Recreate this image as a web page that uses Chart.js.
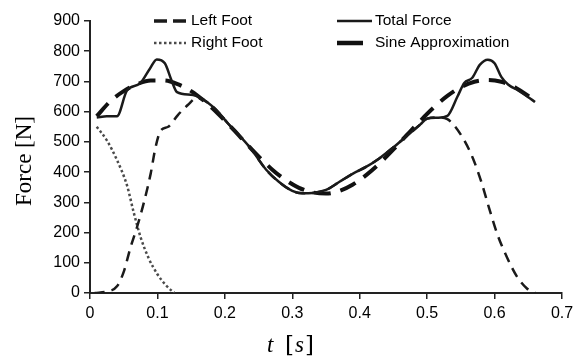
<!DOCTYPE html>
<html>
<head>
<meta charset="utf-8">
<script src="https://cdn.jsdelivr.net/npm/chart.js@4.4.1/dist/chart.umd.min.js"></script>
<style>
  html, body { margin: 0; padding: 0; background: #fff; }
  #wrap { width: 580px; height: 358px; position: relative; }
</style>
</head>
<body>
<div id="wrap"><canvas id="myChart"></canvas></div>
<script>
// values (t in s, force in N)
const leftT = [0.007, 0.025, 0.04, 0.05, 0.06, 0.07, 0.08, 0.09, 0.097, 0.105, 0.116, 0.13, 0.145, 0.158,
  0.183, 0.205, 0.237, 0.262, 0.28, 0.3, 0.315, 0.33, 0.35, 0.37, 0.39, 0.41, 0.43, 0.45, 0.47, 0.49, 0.5, 0.515, 0.53,
  0.54, 0.555, 0.568, 0.58, 0.592, 0.604, 0.618, 0.633, 0.648, 0.66];
const leftF = [0, 5, 22, 70, 150, 220, 300, 395, 480, 538, 550, 588, 622, 645,
  615, 560, 482, 406, 368, 338, 330, 331, 341, 368, 395, 418, 447, 482, 520, 558, 577, 581, 575,
  555, 505, 445, 370, 280, 195, 120, 55, 15, 0];

const rightT = [0.01, 0.025, 0.04, 0.055, 0.065, 0.075, 0.087, 0.1, 0.113, 0.125];
const rightF = [550, 505, 440, 355, 265, 185, 115, 62, 25, 0];

const totalT = [0.01, 0.025, 0.04, 0.055, 0.074, 0.089, 0.099, 0.111, 0.121, 0.129, 0.153, 0.183, 0.205, 0.237, 0.262,
  0.28, 0.3, 0.315, 0.33, 0.35, 0.37, 0.39, 0.41, 0.43, 0.45, 0.47, 0.49, 0.5, 0.515, 0.53, 0.545, 0.555, 0.567,
  0.578, 0.59, 0.6, 0.61, 0.62, 0.635, 0.65, 0.66];
const totalF = [581, 585, 585, 671, 693, 743, 773, 760, 703, 665, 655, 615, 560, 482, 406,
  368, 338, 330, 331, 341, 368, 395, 418, 447, 482, 520, 558, 577, 580, 586, 650, 695, 712,
  755, 772, 760, 715, 690, 670, 648, 632];

const sineT = [0.01, 0.03, 0.05, 0.07, 0.09, 0.11, 0.13, 0.15, 0.17, 0.19, 0.21, 0.23, 0.25, 0.27, 0.29, 0.31, 0.33,
  0.35, 0.37, 0.39, 0.41, 0.43, 0.45, 0.47, 0.49, 0.51, 0.53, 0.55, 0.57, 0.59, 0.61, 0.63, 0.65, 0.66];
const sineF = [585, 634, 668, 691, 703, 703, 691, 668, 634, 593, 547, 499, 452, 409, 374, 348, 333,
  329, 338, 359, 391, 430, 475, 523, 570, 614, 652, 681, 699, 705, 699, 681, 652, 635];

const xTicks = [0, 0.1, 0.2, 0.3, 0.4, 0.5, 0.6, 0.7];
const yTicks = [0, 100, 200, 300, 400, 500, 600, 700, 800, 900];

const toPoints = (ts, fs) => ts.map((t, i) => ({ x: t, y: fs[i] }));

const legendPlugin = {
    id: 'twoColLegend',
    afterDraw(chart) {
        const c = chart.ctx;
        const items = [
            { ds: 0, x: 154, y: 21 },
            { ds: 1, x: 154, y: 43 },
            { ds: 2, x: 337, y: 21 },
            { ds: 3, x: 337, y: 43 }
        ];
        const lens = [32, 32, 35, 26];
        c.save();
        items.forEach((it, i) => {
            const ds = chart.data.datasets[it.ds];
            c.beginPath();
            c.strokeStyle = ds.borderColor;
            c.lineWidth = ds.legendWidth;
            c.setLineDash(ds.legendDash);
            c.moveTo(it.x, it.y);
            c.lineTo(it.x + lens[i], it.y);
            c.stroke();
            c.setLineDash([]);
            c.fillStyle = '#000';
            c.font = '15.5px "Liberation Sans", Arial, sans-serif';
            c.textBaseline = 'middle';
            c.textAlign = 'left';
            c.fillText(ds.label, it.x + (i < 2 ? 37 : 38), it.y);
        });

        // axis titles
        c.fillStyle = '#000';
        c.textBaseline = 'middle';
        c.save();
        c.translate(25, 161);
        c.rotate(-Math.PI / 2);
        c.textAlign = 'center';
        c.font = '23px "Liberation Serif", "Times New Roman", serif';
        c.fillText('Force [N]', 0, 0);
        c.restore();

        c.textAlign = 'left';
        c.font = 'italic 23px "Liberation Serif", "Times New Roman", serif';
        c.fillText('t', 267, 346);
        c.font = '23px "DejaVu Serif", "Liberation Serif", serif';
        c.fillText('[', 285, 346);
        c.font = 'italic 23px "Liberation Serif", "Times New Roman", serif';
        c.fillText('s', 295, 346);
        c.font = '23px "DejaVu Serif", "Liberation Serif", serif';
        c.fillText(']', 305, 346);
        c.restore();
    }
};

document.addEventListener('DOMContentLoaded', () => {
    const ctx = document.getElementById('myChart').getContext('2d');

    const myChart = new Chart(ctx, {
        type: 'line',
        data: {
            datasets: [
                {
                    label: 'Left Foot',
                    data: toPoints(leftT, leftF),
                    borderColor: '#1a1a1a',
                    borderWidth: 2.5,
                    borderDash: [10, 7],
                    legendWidth: 3.5,
                    legendDash: [13, 6]
                },
                {
                    label: 'Right Foot',
                    data: toPoints(rightT, rightF),
                    borderColor: '#4a4a4a',
                    borderWidth: 2.5,
                    borderDash: [2.5, 2.5],
                    legendWidth: 2.5,
                    legendDash: [2.5, 2.5]
                },
                {
                    label: 'Total Force',
                    data: toPoints(totalT, totalF),
                    borderColor: '#1a1a1a',
                    borderWidth: 2.5,
                    borderDash: [],
                    legendWidth: 2.5,
                    legendDash: []
                },
                {
                    label: 'Sine Approximation',
                    data: toPoints(sineT, sineF),
                    borderColor: '#111',
                    borderWidth: 4,
                    borderDash: [17, 10],
                    legendWidth: 4.5,
                    legendDash: []
                }
            ]
        },
        options: {
            responsive: true,
            maintainAspectRatio: false,
            animation: false,
            layout: { padding: { top: 21, right: 18, left: 0, bottom: 0 } },
            elements: {
                point: { radius: 0 },
                line: { cubicInterpolationMode: 'monotone', borderCapStyle: 'butt' }
            },
            plugins: {
                legend: { display: false },
                tooltip: { enabled: false }
            },
            scales: {
                x: {
                    type: 'linear',
                    min: 0,
                    max: 0.7,
                    afterFit: (s) => { s.height = 65; },
                    afterBuildTicks: (s) => { s.ticks = xTicks.map(v => ({ value: v })); },
                    border: { display: true, color: '#222', width: 2 },
                    grid: { drawOnChartArea: false, drawTicks: true, tickLength: 6, color: '#222', lineWidth: 1.5 },
                    ticks: {
                        padding: 5,
                        color: '#000',
                        font: { family: '"Liberation Sans", Arial, sans-serif', size: 16 },
                        callback: (v) => String(Math.round(v * 10) / 10)
                    }
                },
                y: {
                    min: 0,
                    max: 900,
                    afterFit: (s) => { s.width = 90; },
                    afterBuildTicks: (s) => { s.ticks = yTicks.map(v => ({ value: v })); },
                    border: { display: true, color: '#222', width: 2 },
                    grid: { drawOnChartArea: false, drawTicks: true, tickLength: 6, color: '#222', lineWidth: 1.5 },
                    ticks: {
                        padding: 4,
                        color: '#000',
                        font: { family: '"Liberation Sans", Arial, sans-serif', size: 16 }
                    }
                }
            }
        },
        plugins: [legendPlugin]
    });
});
</script>
</body>
</html>
